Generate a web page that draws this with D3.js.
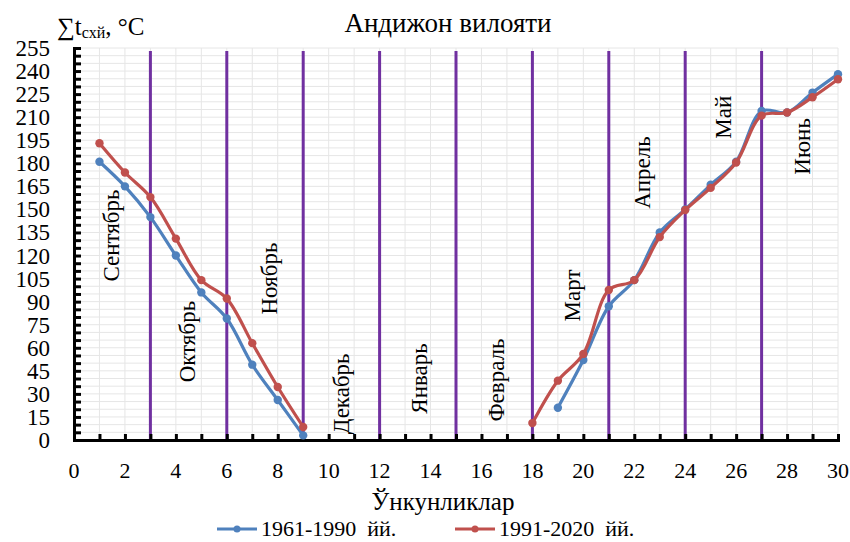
<!DOCTYPE html>
<html>
<head>
<meta charset="utf-8">
<script src="https://cdn.jsdelivr.net/npm/d3@7"></script>
<style>
  html, body { margin: 0; padding: 0; background: #fff; }
</style>
</head>
<body>
<svg id="chart" width="850" height="542"></svg>
<script>
// Day index (ўнкунлик) for each series
const daysEarly = [1, 2, 3, 4, 5, 6, 7, 8, 9];
const daysLate1961 = [19, 20, 21, 22, 23, 24, 25, 26, 27, 28, 29, 30];
const daysLate1991 = [18, 19, 20, 21, 22, 23, 24, 25, 26, 27, 28, 29, 30];

// Accumulated temperatures, 1961-1990
const autumn1961 = [181, 165, 145, 120, 96, 79, 49, 26, 3];
const spring1961 = [21, 52, 87, 104, 135, 150, 166, 181, 214, 213, 226, 238];

// Accumulated temperatures, 1991-2020
const autumn1991 = [193, 174, 158, 131, 104, 92, 63, 34.5, 8.5];
const spring1991 = [11, 38.6, 56, 97.6, 104, 132, 149.6, 164, 180.5, 211, 213, 223, 234.7];

// Month boundaries and month names
const monthBounds = [3, 6, 9, 12, 15, 18, 21, 24, 27];
const monthNames = ["Сентябрь", "Октябрь", "Ноябрь", "Декабрь", "Январь", "Февраль", "Март", "Апрель", "Май", "Июнь"];
// label anchor: [day position, value position]
const monthLabelPos = [[1.45, 133], [4.45, 64], [7.65, 105], [10.5, 30], [13.55, 40], [16.55, 39], [19.55, 94], [22.3, 174], [25.5, 210], [28.6, 191]];

const xTicks = d3.range(0, 31, 2);
const yTicks = d3.range(0, 256, 15);

const seriesNames = ["1961-1990  йй.", "1991-2020  йй."];
const colors = ["#4F81BD", "#C0504D"];
const purple = "#7030A0";
const serif = "Liberation Serif";

const svg = d3.select("#chart");
const x = d3.scaleLinear().domain([0, 30]).range([74, 838]);
const y = d3.scaleLinear().domain([0, 255]).range([440, 48]);

// gridlines
const grid = svg.append("g").attr("stroke", "#e6e6e6").attr("stroke-width", 1);
grid.selectAll(".vg").data(d3.range(1, 31)).join("line")
  .attr("x1", d => x(d)).attr("x2", d => x(d))
  .attr("y1", y(0)).attr("y2", y(255));
grid.selectAll(".hg").data(d3.range(5, 256, 5)).join("line")
  .attr("x1", x(0)).attr("x2", x(30))
  .attr("y1", d => y(d)).attr("y2", d => y(d));

// month boundary lines
svg.append("g").selectAll("line").data(monthBounds).join("line")
  .attr("x1", d => x(d)).attr("x2", d => x(d))
  .attr("y1", y(0)).attr("y2", y(253))
  .attr("stroke", purple).attr("stroke-width", 3);

// axes
const xAxis = svg.append("g").attr("transform", `translate(0,${y(0)})`)
  .call(d3.axisBottom(x).tickValues(d3.range(0, 31, 1)).tickSize(-6).tickFormat(""));
xAxis.select(".domain").attr("stroke", "#000").attr("stroke-width", 3);
xAxis.selectAll(".tick line").attr("stroke", "#000").attr("stroke-width", 3);

const yAxis = svg.append("g").attr("transform", `translate(${x(0)},0)`)
  .call(d3.axisLeft(y).tickValues(d3.range(0, 256, 5)).tickSize(-7).tickFormat(""));
yAxis.select(".domain").attr("stroke", "#000").attr("stroke-width", 3);
yAxis.selectAll(".tick line").attr("stroke", "#000").attr("stroke-width", 3);

// tick labels
svg.append("g").selectAll("text").data(xTicks).join("text")
  .attr("x", d => x(d)).attr("y", 478)
  .attr("text-anchor", "middle").attr("font-size", 22)
  .attr("font-family", serif)
  .text(d => d);
svg.append("g").selectAll("text").data(yTicks).join("text")
  .attr("x", 50).attr("y", d => y(d) + 8)
  .attr("text-anchor", "end").attr("font-size", 23)
  .attr("font-family", serif)
  .text(d => d);

// month names
svg.append("g").selectAll("text").data(monthNames).join("text")
  .attr("transform", (d, i) => `translate(${x(monthLabelPos[i][0])},${y(monthLabelPos[i][1])}) rotate(-90)`)
  .attr("text-anchor", "middle").attr("dy", "0.35em")
  .attr("font-size", 23).attr("font-family", serif)
  .text(d => d);

// series
const line = d3.line().x(d => x(d[0])).y(d => y(d[1])).curve(d3.curveCatmullRom.alpha(0.5));
const segments = [
  [d3.zip(daysEarly, autumn1961), d3.zip(daysLate1961, spring1961)],
  [d3.zip(daysEarly, autumn1991), d3.zip(daysLate1991, spring1991)]
];
segments.forEach((segs, i) => {
  const g = svg.append("g");
  segs.forEach(pts => {
    g.append("path").datum(pts).attr("d", line)
      .attr("fill", "none").attr("stroke", colors[i]).attr("stroke-width", 3.2);
    g.selectAll(null).data(pts).join("circle")
      .attr("cx", d => x(d[0])).attr("cy", d => y(d[1])).attr("r", 4.2)
      .attr("fill", colors[i]);
  });
});

// title and axis titles
svg.append("text").attr("x", 448).attr("y", 32).attr("text-anchor", "middle")
  .attr("font-size", 27).attr("font-family", serif).text("Андижон вилояти");

const yt = svg.append("text").attr("x", 57).attr("y", 35).attr("font-size", 25).attr("font-family", serif);
yt.append("tspan").text("∑t");
yt.append("tspan").attr("font-size", 16).attr("dy", 3).text("схй");
yt.append("tspan").attr("dy", -3).text(", °C");

svg.append("text").attr("x", 443).attr("y", 510).attr("text-anchor", "middle")
  .attr("font-size", 25).attr("font-family", serif).text("Ўнкунликлар");

// legend
const legendX = [217, 455];
seriesNames.forEach((name, i) => {
  const g = svg.append("g").attr("transform", `translate(${legendX[i]},529)`);
  g.append("line").attr("x1", 0).attr("x2", 40).attr("y1", 0).attr("y2", 0)
    .attr("stroke", colors[i]).attr("stroke-width", 3);
  g.append("circle").attr("cx", 20).attr("cy", 0).attr("r", 3.5).attr("fill", colors[i]);
  g.append("text").attr("x", 44).attr("y", 7).attr("font-size", 22)
    .attr("font-family", serif)
    .attr("xml:space", "preserve").style("white-space", "pre").text(name);
});
</script>
</body>
</html>
